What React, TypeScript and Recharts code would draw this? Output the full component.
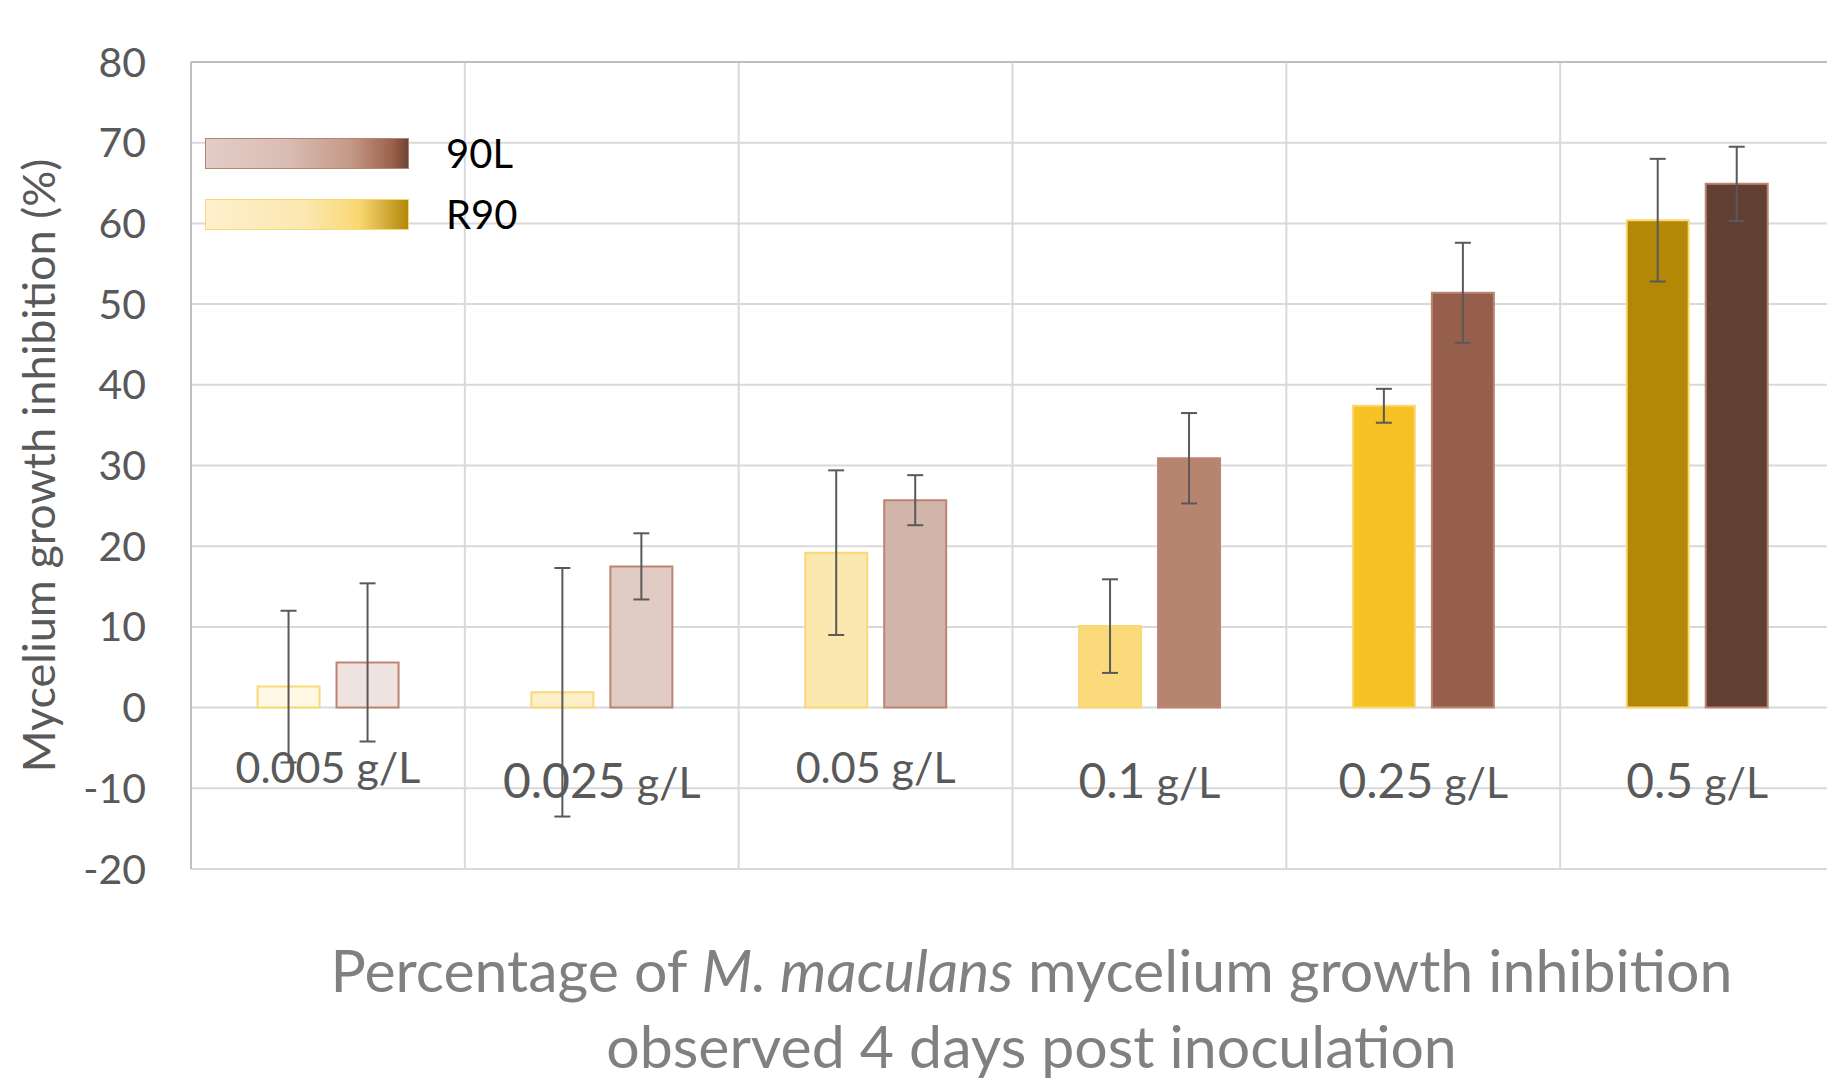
import React from "react";
import { BarChart, Bar, XAxis, YAxis, CartesianGrid, ErrorBar, Cell, ReferenceLine } from "recharts";

const concentrations = ["0.005 g/L", "0.025 g/L", "0.05 g/L", "0.1 g/L", "0.25 g/L", "0.5 g/L"];
const r90Values = [2.6, 1.9, 19.2, 10.1, 37.4, 60.4];
const r90Errors = [9.4, 15.4, 10.2, 5.8, 2.1, 7.6];
const l90Values = [5.6, 17.5, 25.7, 30.9, 51.4, 64.9];
const l90Errors = [9.8, 4.1, 3.1, 5.6, 6.2, 4.6];
const yTicks = [-20, -10, 0, 10, 20, 30, 40, 50, 60, 70, 80];

// shades get darker as the concentration rises
const r90Fills = ["#fff8e4", "#fdf0c9", "#fbe8ae", "#fada7b", "#f6c224", "#b38807"];
const l90Fills = ["#f0e4e2", "#e1cbc5", "#d3b4aa", "#b78470", "#955f4b", "#623f33"];

const data = concentrations.map((name, i) => ({
  name,
  r90: r90Values[i],
  r90Err: r90Errors[i],
  l90: l90Values[i],
  l90Err: l90Errors[i],
}));

const FONT = "Lato, 'Open Sans', sans-serif";
const AXIS_GREY = "#595959";

// number part size / baseline shift for each category label
const tickNumberSize = [43, 48, 43, 48, 48, 48];
const tickBaseline = [-86, -71, -86, -71, -71, -71];

const CategoryTick = ({ x, y, payload, index }: any) => {
  const [num, unit] = String(payload.value).split(" ");
  return (
    <text
      x={x}
      y={y + tickBaseline[index]}
      textAnchor="middle"
      fill={AXIS_GREY}
      fontFamily={FONT}
      style={{ whiteSpace: "pre" }}
    >
      <tspan fontSize={tickNumberSize[index]}>{num}</tspan>
      <tspan fontSize={43}>{" " + unit}</tspan>
    </text>
  );
};

const legendItems = [
  {
    name: "90L",
    border: "#b98170",
    gradient:
      "linear-gradient(90deg, #e3cdc8 0%, #d9bdb4 40%, #c49886 72%, #9c624b 92%, #6e4536 100%)",
  },
  {
    name: "R90",
    border: "#f9d977",
    gradient:
      "linear-gradient(90deg, #fdf0cc 0%, #fbe7af 50%, #f9d770 76%, #d6b040 88%, #b38807 100%)",
  },
];

const LegendBox = () => (
  <div style={{ position: "absolute", left: 205, top: 138, fontFamily: FONT }}>
    {legendItems.map((item, i) => (
      <div
        key={item.name}
        style={{ display: "flex", alignItems: "center", height: 31, marginTop: i === 0 ? 0 : 30 }}
      >
        <div
          style={{
            width: 202,
            height: 29,
            background: item.gradient,
            border: `1.5px solid ${item.border}`,
          }}
        />
        <span style={{ marginLeft: 37, fontSize: 40, color: "#000", lineHeight: "31px" }}>
          {item.name}
        </span>
      </div>
    ))}
  </div>
);

const XTitle = ({ viewBox }: any) => {
  const cx = viewBox.x + viewBox.width / 2 + 19;
  return (
    <text textAnchor="middle" fill="#808080" fontFamily={FONT} fontSize={59} style={{ whiteSpace: "pre" }}>
      <tspan x={cx} y={viewBox.y + 123}>
        Percentage of <tspan fontStyle="italic">M. maculans</tspan> mycelium growth inhibition
      </tspan>
      <tspan x={cx} y={viewBox.y + 199}>
        observed 4 days post inoculation
      </tspan>
    </text>
  );
};

const YTitle = ({ viewBox }: any) => {
  const cy = viewBox.y + viewBox.height / 2;
  return (
    <text
      x={38}
      y={cy}
      transform={`rotate(-90, 38, ${cy})`}
      textAnchor="middle"
      dominantBaseline="central"
      fill={AXIS_GREY}
      fontFamily={FONT}
      fontSize={45}
    >
      Mycelium growth inhibition (%)
    </text>
  );
};

export default function App() {
  return (
    <div
      style={{
        position: "fixed",
        left: 0,
        top: 0,
        width: 1827,
        height: 1088,
        overflow: "hidden",
        background: "#fff",
      }}
    >
      <BarChart
        width={1840}
        height={1088}
        data={data}
        margin={{ top: 62, right: 6, left: 0, bottom: 0 }}
        barCategoryGap="24.3%"
        barGap={17}
      >
        <CartesianGrid
          stroke="#d9d9d9"
          strokeWidth={2}
          verticalCoordinatesGenerator={({ offset }: any) =>
            concentrations.map((_, i) => offset.left + ((i + 1) * offset.width) / concentrations.length)
          }
        />
        <XAxis
          dataKey="name"
          axisLine={false}
          tickLine={false}
          tickSize={0}
          tickMargin={0}
          height={219}
          interval={0}
          tick={<CategoryTick />}
          label={{ content: XTitle }}
        />
        <YAxis
          domain={[-20, 80]}
          ticks={yTicks}
          interval={0}
          width={191}
          tickSize={0}
          tickMargin={45}
          tickLine={false}
          axisLine={{ stroke: "#bfbfbf", strokeWidth: 2 }}
          tick={{ fill: AXIS_GREY, fontSize: 41, fontFamily: FONT }}
          label={{ content: YTitle }}
        />
        <ReferenceLine y={80} stroke="#bfbfbf" strokeWidth={2} />
        <Bar dataKey="r90" name="R90" isAnimationActive={false} strokeWidth={2}>
          {data.map((d, i) => (
            <Cell key={`r90-${i}`} fill={r90Fills[i]} stroke="#f9d977" />
          ))}
          <ErrorBar dataKey="r90Err" width={8} stroke="#595959" strokeWidth={2} direction="y" />
        </Bar>
        <Bar dataKey="l90" name="90L" isAnimationActive={false} strokeWidth={2}>
          {data.map((d, i) => (
            <Cell key={`l90-${i}`} fill={l90Fills[i]} stroke="#bb8572" />
          ))}
          <ErrorBar dataKey="l90Err" width={8} stroke="#595959" strokeWidth={2} direction="y" />
        </Bar>
      </BarChart>
      <LegendBox />
    </div>
  );
}
